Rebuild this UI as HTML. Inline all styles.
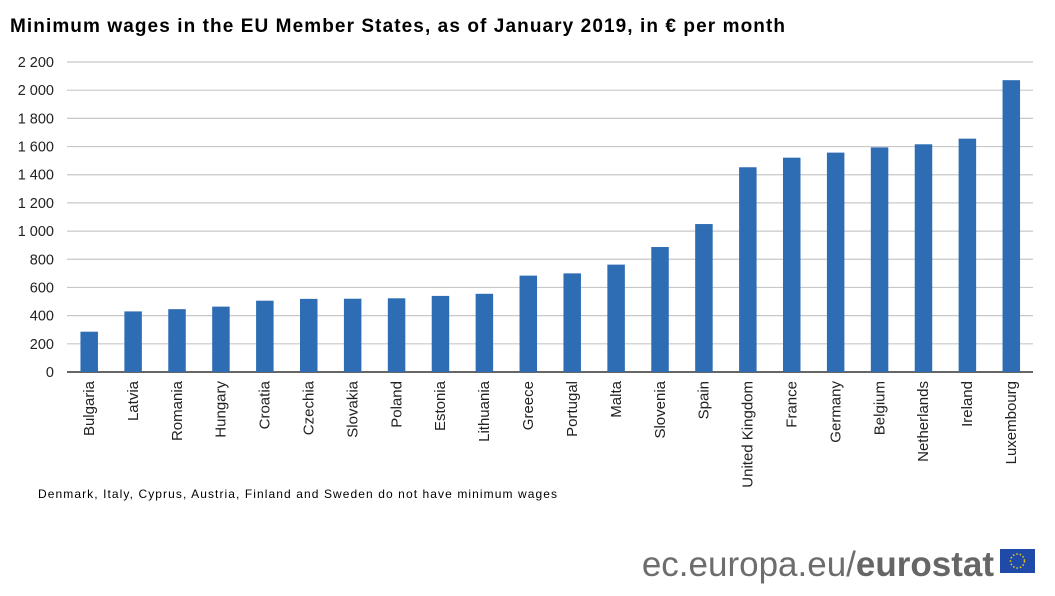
<!DOCTYPE html>
<html><head><meta charset="utf-8"><style>
body{margin:0;background:#fff;width:1055px;height:591px;overflow:hidden;font-family:"Liberation Sans",Arial,sans-serif}
</style></head><body>
<svg id="c" width="1055" height="591" xmlns="http://www.w3.org/2000/svg">
<text x="10" y="32" font-size="19" font-weight="bold" fill="#000" textLength="775" lengthAdjust="spacing">Minimum wages in the EU Member States, as of January 2019, in € per month</text>
<g id="grid"></g><g id="bars"></g><g id="xl"></g>
<text x="38" y="498" font-size="12" fill="#000" textLength="519" lengthAdjust="spacing">Denmark, Italy, Cyprus, Austria, Finland and Sweden do not have minimum wages</text>
<text x="994" y="576" font-size="35" text-anchor="end" fill="#6d6d6d">ec.europa.eu/<tspan font-weight="bold" fill="#666">eurostat</tspan></text>
<g><rect x="1000" y="549" width="35" height="24" fill="#1f4aa8"/><circle cx="1017.5" cy="561" r="7" fill="none" stroke="#f5d000" stroke-width="1.5" stroke-dasharray="1.5 2"/></g>
</svg>
<script>
const categories=["Bulgaria","Latvia","Romania","Hungary","Croatia","Czechia","Slovakia","Poland","Estonia","Lithuania","Greece","Portugal","Malta","Slovenia","Spain","United Kingdom","France","Germany","Belgium","Netherlands","Ireland","Luxembourg"];
const values=[286,430,446,464,506,519,520,523,540,555,684,700,762,887,1050,1453,1521,1557,1594,1616,1656,2071];
const ticks=[0,200,400,600,800,1000,1200,1400,1600,1800,2000,2200];
const tickLabels=["0","200","400","600","800","1 000","1 200","1 400","1 600","1 800","2 000","2 200"];
const NS="http://www.w3.org/2000/svg";
const x0=67,x1=1033,yZero=372,yTop=62,vMax=2200;
const y=v=>yZero-(yZero-yTop)*v/vMax;
const step=(x1-x0)/categories.length;
const xc=i=>x0+step*(i+0.5);
function mk(t,a,p){const e=document.createElementNS(NS,t);for(const k in a)e.setAttribute(k,a[k]);p.appendChild(e);return e;}
const g=document.getElementById('grid'),b=document.getElementById('bars'),xl=document.getElementById('xl');
ticks.forEach((t,i)=>{
 const l=mk('line',{x1:x0,x2:x1,y1:y(t),y2:y(t),stroke:t===0?'#333':'#c8c8c8','stroke-width':t===0?1.5:1.2},g);
 
 
 const tx=mk('text',{x:54,y:y(t)+5,'font-size':14.5,'text-anchor':'end',fill:'#222'},g);
 tx.textContent=tickLabels[i];
 
 
});
categories.forEach((c,i)=>{
 const r=mk('rect',{x:xc(i)-8.5,y:y(values[i]),width:17.5,height:yZero-y(values[i]),fill:'#2e6db4'},b);
 
 
 const t=mk('text',{x:0,y:0,'font-size':15,'text-anchor':'end',fill:'#222',transform:`translate(${xc(i)+5},381) rotate(-90)`},xl);
 t.textContent=c;
 
 
});
</script>
</body></html>
